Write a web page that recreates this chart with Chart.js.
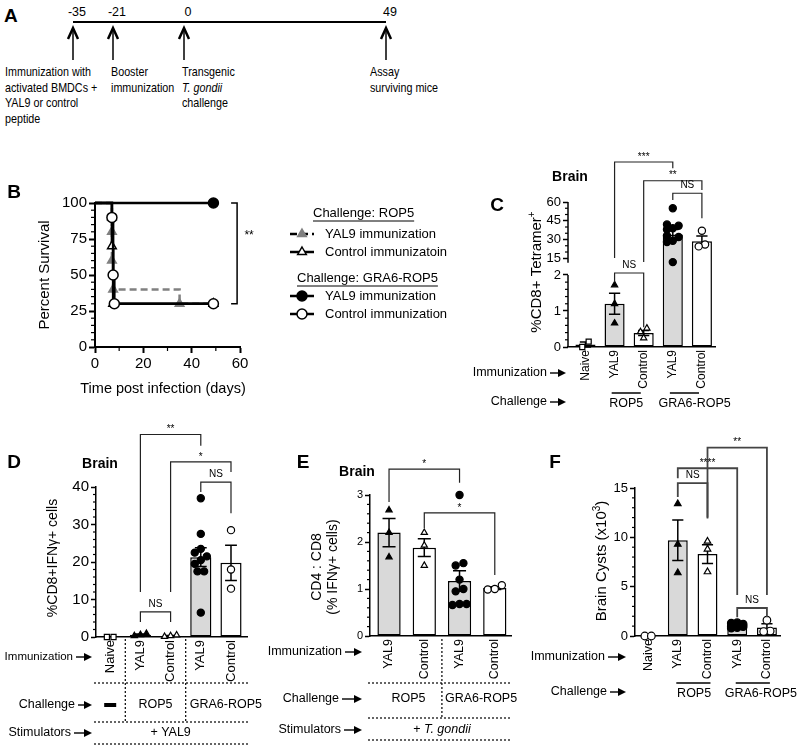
<!DOCTYPE html>
<html>
<head>
<meta charset="utf-8">
<title>Figure</title>
<script src="https://cdn.jsdelivr.net/npm/chart.js@4.4.1/dist/chart.umd.min.js"></script>
<style>
  html, body { margin: 0; padding: 0; background: #fff; }
  body { position: relative; width: 800px; height: 745px; overflow: hidden; }
  canvas, svg { position: absolute; left: 0; top: 0; }
  svg { font-family: "Liberation Sans", Arial, sans-serif; }
</style>
</head>
<body>
<svg id="timeline" width="800" height="130"></svg>
<script>
const FONT = '"Liberation Sans", Arial, Helvetica, sans-serif';
const GREY = '#d9d9d9';

// ---- A : timeline (schematic, not to scale)
const tlDays  = ['-35', '-21', '0', '49'];
const tlNotes = [
  ['Immunization with', 'activated BMDCs +', 'YAL9 or control', 'peptide'],
  ['Booster', 'immunization'],
  ['Transgenic', '<tspan font-style="italic">T. gondii</tspan>', 'challenge'],
  ['Assay', 'surviving mice']
];

// ---- B : survival (Kaplan-Meier steps)
const survDaysRop5Yal9 = [0, 7, 7, 7, 7.5, 35, 49];
const survRop5Yal9     = [100, 90, 80, 60, 40, 30, 30];
const survDaysRop5Ctrl = [0, 7, 7.5, 49];
const survRop5Ctrl     = [100, 70, 30, 30];
const survDaysGraYal9  = [0, 49];
const survGraYal9      = [100, 100];
const survDaysGraCtrl  = [0, 7, 7.5, 8, 49];
const survGraCtrl      = [100, 90, 50, 30, 30];
const survTicksX = [0, 20, 40, 60];
const survTicksY = [0, 25, 50, 75, 100];
const legendRop5 = ['YAL9 immunization', 'Control immunizatoin'];
const legendGra6 = ['YAL9 immunization', 'Control immunization'];

// ---- C : %CD8+ tetramer+ (broken axis)
const cCats   = ['Naive', 'YAL9', 'Control', 'YAL9', 'Control'];
const cMeans  = [0.07, 1.2, 0.39, 34, 28.7];
const cSems   = [0.07, 0.29, 0.07, 4.0, 4.1];
const cPoints = [[0, 0.15], [1.72, 1.2, 0.66], [0.52, 0.42, 0.25],
                 [55, 42, 41, 39, 38, 33, 32, 29, 28, 12], [37, 26, 24.5]];
const cTicks  = [0, 1, 2, 15, 30, 45, 60];

// ---- D : %CD8+IFNg+
const dCats   = ['Naive', 'YAL9', 'Control', 'YAL9', 'Control'];
const dMeans  = [0, 0.6, 0.3, 21.3, 19.8];
const dSems   = [0, 0.2, 0.1, 2.5, 4.7];
const dPoints = [[0, 0], [0.3, 0.6, 0.9], [0.1, 0.3, 0.5],
                 [37, 27.5, 23.5, 22.5, 21.5, 20.5, 19.5, 17.5, 17.5, 6.5], [28.5, 18, 12.9]];
const dTicks  = [0, 10, 20, 30, 40];

// ---- E : CD4:CD8 ratio
const eCats   = ['YAL9', 'Control', 'YAL9', 'Control'];
const eMeans  = [2.2, 1.88, 1.17, 1.02];
const eSems   = [0.3, 0.19, 0.22, 0.03];
const ePoints = [[2.68, 2.2, 1.68], [2.2, 1.93, 1.5],
                 [3.0, 1.55, 1.5, 1.2, 1.0, 0.95, 0.68, 0.68, 0.66], [1.08, 0.99, 1.0]];
const eTicks  = [0, 1, 2, 3];

// ---- F : brain cysts (x10^3)
const fCats   = ['Naive', 'YAL9', 'Control', 'YAL9', 'Control'];
const fMeans  = [0, 9.7, 8.3, 1.0, 0.85];
const fSems   = [0, 2.05, 0.95, 0.1, 0.38];
const fPoints = [[0, 0], [13.4, 9.3, 6.4], [9.6, 8.8, 6.5],
                 [1.35, 1.3, 1.2, 1.1, 1.0, 0.95, 0.85, 0.8], [1.6, 0.5, 0.45]];
const fTicks  = [0, 5, 10, 15];

Chart.defaults.font.family = FONT;
Chart.defaults.color = '#000';

// ---------- panel A, plain svg
(function () {
  const ax = [73, 113, 184, 386], nx = [5, 111, 182, 370];
  let s = '<text x="4" y="22" font-size="19" font-weight="bold">A</text>';
  s += '<line x1="73" y1="22" x2="386" y2="22" stroke="#000" stroke-width="2"/>';
  ax.forEach((x, i) => {
    s += `<text x="${x + 4}" y="16" font-size="12.5" text-anchor="middle">${tlDays[i]}</text>`;
    s += `<line x1="${x}" y1="30" x2="${x}" y2="60" stroke="#000" stroke-width="1.5"/>`;
    s += `<polyline points="${x - 5},39 ${x},28 ${x + 5},39" fill="none" stroke="#000" stroke-width="2.5"/>`;
    s += `<g transform="translate(${nx[i]},0) scale(0.84,1)">`;
    tlNotes[i].forEach((line, k) => {
      s += `<text x="0" y="${76.5 + k * 15.5}" font-size="12.8">${line}</text>`;
    });
    s += '</g>';
  });
  document.getElementById('timeline').innerHTML = s;
})();

// ---------- helpers
function layer() {
  const c = document.createElement('canvas');
  c.width = 800; c.height = 745;
  document.body.appendChild(c);
  return c;
}
function pad(l, t, r, b, yw, xh) {
  return { left: l - yw, top: t, right: 800 - r, bottom: 745 - b - xh };
}
function common(padding) {
  return {
    responsive: false, animation: false, events: [],
    layout: { padding },
    plugins: { legend: { display: false }, tooltip: { enabled: false } }
  };
}
function rich(ctx, segs, x, y, o = {}) {
  ctx.save();
  ctx.translate(x, y);
  if (o.rot) ctx.rotate(o.rot);
  ctx.textBaseline = 'middle';
  ctx.textAlign = 'left';
  ctx.fillStyle = '#000';
  const fontOf = s => `${s.italic ? 'italic ' : ''}${s.bold || o.bold ? 'bold ' : ''}${s.size || o.size || 12}px ${FONT}`;
  let w = 0;
  segs.forEach(s => { ctx.font = fontOf(s); s._w = ctx.measureText(s.t).width; w += s._w; });
  let cx = o.align === 'left' ? 0 : o.align === 'right' ? -w : -w / 2;
  segs.forEach(s => { ctx.font = fontOf(s); ctx.fillText(s.t, cx, s.dy || 0); cx += s._w; });
  ctx.restore();
}
function arrow(ctx, x1, x2, y) {
  ctx.save();
  ctx.strokeStyle = ctx.fillStyle = '#000';
  ctx.lineWidth = 1.4;
  ctx.beginPath(); ctx.moveTo(x1, y); ctx.lineTo(x2 - 5, y); ctx.stroke();
  ctx.beginPath(); ctx.moveTo(x2, y); ctx.lineTo(x2 - 8, y - 4); ctx.lineTo(x2 - 8, y + 4); ctx.closePath(); ctx.fill();
  ctx.restore();
}
function rowLabel(ctx, label, xr, xEnd, y, size) {
  rich(ctx, [{ t: label }], xr, y, { size: size || 12.5, align: 'right' });
  arrow(ctx, xr + 3, xEnd, y);
}
function line(ctx, x1, y1, x2, y2, w, dash) {
  ctx.save();
  ctx.strokeStyle = '#000'; ctx.lineWidth = w || 1.3;
  ctx.setLineDash(dash || []);
  ctx.beginPath(); ctx.moveTo(x1, y1); ctx.lineTo(x2, y2); ctx.stroke();
  ctx.restore();
}
const dotted = (ctx, x1, y1, x2, y2) => line(ctx, x1, y1, x2, y2, 1.2, [2, 2]);
function marker(ctx, shape, x, y, r, fill, stroke) {
  ctx.save();
  ctx.fillStyle = fill; ctx.strokeStyle = stroke; ctx.lineWidth = 1.5;
  ctx.beginPath();
  if (shape === 'circle') ctx.arc(x, y, r, 0, Math.PI * 2);
  else { ctx.moveTo(x, y - r); ctx.lineTo(x + r * 0.866, y + r * 0.5); ctx.lineTo(x - r * 0.866, y + r * 0.5); ctx.closePath(); }
  ctx.fill(); ctx.stroke();
  ctx.restore();
}
// small ticks between the major ones
function minor(list) {
  return {
    id: 'minorTicks',
    afterDraw(chart) {
      const ctx = chart.ctx;
      ctx.save(); ctx.strokeStyle = '#000'; ctx.lineWidth = 1.2;
      list.forEach(m => {
        const s = chart.scales[m.axis];
        for (let v = m.from; v <= m.to + 1e-9; v += m.step) {
          if (m.skip.some(t => Math.abs(t - v) < 1e-6)) continue;
          const p = s.getPixelForValue(v);
          ctx.beginPath();
          if (s.isHorizontal()) { ctx.moveTo(p, s.top); ctx.lineTo(p, s.top + (m.len || 3)); }
          else { ctx.moveTo(s.right, p); ctx.lineTo(s.right - (m.len || 3), p); }
          ctx.stroke();
        }
      });
      ctx.restore();
    }
  };
}
function errorBars(means, sems) {
  return {
    id: 'errorBars',
    afterDatasetDraw(chart, args) {
      if (args.index !== 0) return;
      const { ctx } = chart, y = chart.scales.y, bars = args.meta.data;
      ctx.save(); ctx.strokeStyle = '#000'; ctx.lineWidth = 1.5;
      means.forEach((m, i) => {
        if (!sems[i]) return;
        const x = bars[i].x, w = bars[i].width * 0.28;
        const hi = y.getPixelForValue(m + sems[i]), lo = y.getPixelForValue(Math.max(0, m - sems[i]));
        ctx.beginPath();
        ctx.moveTo(x, lo); ctx.lineTo(x, hi);
        ctx.moveTo(x - w, hi); ctx.lineTo(x + w, hi);
        ctx.moveTo(x - w, lo); ctx.lineTo(x + w, lo);
        ctx.stroke();
      });
      ctx.restore();
    }
  };
}
function brackets(list, color, width) {
  return {
    id: 'brackets',
    afterDraw(chart) {
      const { ctx } = chart, x = chart.scales.x, y = chart.scales.y;
      list.forEach(([a, b, top, la, lb, label]) => {
        const xa = x.getPixelForValue(a), xb = x.getPixelForValue(b), yt = y.getPixelForValue(top);
        ctx.save(); ctx.strokeStyle = color; ctx.lineWidth = width;
        ctx.beginPath();
        ctx.moveTo(xa, y.getPixelForValue(la)); ctx.lineTo(xa, yt);
        ctx.lineTo(xb, yt); ctx.lineTo(xb, y.getPixelForValue(lb));
        ctx.stroke(); ctx.restore();
        rich(ctx, [{ t: label }], (xa + xb) / 2, yt - (label === 'NS' ? 8 : 5), { size: 10 });
      });
    }
  };
}
// spreads points of similar value sideways
function swarm(vals, tol) {
  const idx = vals.map((v, i) => i).sort((a, b) => vals[a] - vals[b]);
  const off = vals.map(() => 0);
  let start = 0;
  for (let k = 1; k <= idx.length; k++) {
    if (k === idx.length || vals[idx[k]] - vals[idx[k - 1]] > tol(vals[idx[k]])) {
      const g = idx.slice(start, k);
      g.forEach((gi, j) => {
        off[gi] = g.length === 1 ? 0 : g.length === 2 ? (j ? 0.11 : -0.11) : ((j % 3) - 1) * 0.2;
      });
      start = k;
    }
  }
  return off;
}

// ---------- broken y scale for panel C
const LinearScale = Chart.LinearScale || Chart.registry.getScale('linear');
const cBreak = { low: 2, high: 15, lowFrac: 0.497, highFrac: 0.612, upperFrom: 11.5 };
class BrokenScale extends LinearScale {
  getPixelForValue(v) {
    const b = cBreak;
    let f;
    if (v <= b.low) f = (v - this.min) / (b.low - this.min) * b.lowFrac;
    else if (v < b.high) f = b.lowFrac + (v - b.low) / (b.high - b.low) * (b.highFrac - b.lowFrac);
    else f = b.highFrac + (v - b.high) / (this.max - b.high) * (1 - b.highFrac);
    return this.getPixelForDecimal(f);
  }
  getValueForPixel(p) {
    const b = cBreak, f = this.getDecimalForPixel(p);
    if (f <= b.lowFrac) return this.min + f / b.lowFrac * (b.low - this.min);
    if (f < b.highFrac) return b.low + (f - b.lowFrac) / (b.highFrac - b.lowFrac) * (b.high - b.low);
    return b.high + (f - b.highFrac) / (1 - b.highFrac) * (this.max - b.high);
  }
}
BrokenScale.id = 'broken';
BrokenScale.defaults = {};
Chart.register(BrokenScale);

// ---------- panel B
const ST = {
  rop5Yal9: { line: '#808080', fill: '#808080', shape: 'triangle', dash: [7, 4] },
  rop5Ctrl: { line: '#000', fill: '#fff', shape: 'triangle' },
  graYal9:  { line: '#000', fill: '#000', shape: 'circle' },
  graCtrl:  { line: '#000', fill: '#fff', shape: 'circle' }
};
function kmSet(days, surv, st) {
  return {
    data: days.map((d, i) => ({ x: d, y: surv[i] })),
    stepped: 'before', fill: false, clip: false,
    borderColor: st.line, borderWidth: 2.5, borderDash: st.dash || [],
    pointStyle: st.shape, pointRadius: days.map((d, i) => (i === 0 ? 0 : 5)),
    pointBackgroundColor: st.fill, pointBorderColor: st.line, pointBorderWidth: 1.5
  };
}
function drawB(chart) {
  const { ctx } = chart, x = chart.scales.x, y = chart.scales.y;
  rich(ctx, [{ t: 'B' }], 14, 193, { size: 19, bold: true });
  rich(ctx, [{ t: 'Percent Survival' }], 45, (y.top + y.bottom) / 2, { size: 15, rot: -Math.PI / 2 });
  rich(ctx, [{ t: 'Time post infection (days)' }], 163, 389, { size: 14.5 });
  // significance bracket
  const bx = x.getPixelForValue(58.8), yt = y.getPixelForValue(100), yb = y.getPixelForValue(30);
  ctx.save(); ctx.strokeStyle = '#000'; ctx.lineWidth = 1.5;
  ctx.beginPath(); ctx.moveTo(bx - 6, yt); ctx.lineTo(bx, yt); ctx.lineTo(bx, yb); ctx.lineTo(bx - 6, yb); ctx.stroke();
  ctx.restore();
  rich(ctx, [{ t: '**' }], bx + 12, y.getPixelForValue(77), { size: 12 });
  // legend
  const head = (t, hx, hy) => {
    rich(ctx, [{ t }], hx, hy, { size: 13, align: 'left' });
    ctx.font = `13px ${FONT}`;
    line(ctx, hx, hy + 8, hx + ctx.measureText(t).width, hy + 8, 1);
  };
  const item = (st, label, iy) => {
    line(ctx, 290, iy, 314, iy, 2.5, st.dash);
    marker(ctx, st.shape, 302, iy, 5, st.fill, st.line);
    rich(ctx, [{ t: label }], 325, iy, { size: 13, align: 'left' });
  };
  head('Challenge: ROP5', 313, 213);
  item(ST.rop5Yal9, legendRop5[0], 234);
  item(ST.rop5Ctrl, legendRop5[1], 252);
  head('Challenge: GRA6-ROP5', 297, 278);
  item(ST.graYal9, legendGra6[0], 296);
  item(ST.graCtrl, legendGra6[1], 314);
}
new Chart(layer(), {
  type: 'line',
  data: { datasets: [
    kmSet(survDaysGraYal9, survGraYal9, ST.graYal9),
    kmSet(survDaysGraCtrl, survGraCtrl, ST.graCtrl),
    kmSet(survDaysRop5Ctrl, survRop5Ctrl, ST.rop5Ctrl),
    kmSet(survDaysRop5Yal9, survRop5Yal9, ST.rop5Yal9)
  ] },
  options: {
    ...common(pad(95, 203, 240, 347, 40, 30)),
    scales: {
      x: {
        type: 'linear', min: 0, max: 60,
        afterBuildTicks: s => { s.ticks = survTicksX.map(v => ({ value: v })); },
        afterFit: s => { s.height = 30; },
        ticks: { font: { size: 15 }, color: '#000', padding: 2 },
        grid: { drawOnChartArea: false, tickLength: 6, tickWidth: 2, tickColor: '#000' },
        border: { color: '#000', width: 2 }
      },
      y: {
        type: 'linear', min: 0, max: 100,
        afterBuildTicks: s => { s.ticks = survTicksY.map(v => ({ value: v })); },
        afterFit: s => { s.width = 40; },
        ticks: { font: { size: 15 }, color: '#000', padding: 2 },
        grid: { drawOnChartArea: false, tickLength: 6, tickWidth: 2, tickColor: '#000' },
        border: { color: '#000', width: 2 }
      }
    }
  },
  plugins: [
    minor([{ axis: 'y', from: 0, to: 100, step: 5, skip: survTicksY, len: 4 },
           { axis: 'x', from: 0, to: 60, step: 10, skip: survTicksX, len: 4 }]),
    { id: 'bExtras', afterDraw: drawB }
  ]
});

// ---------- bar panels
function barChart(o) {
  const datasets = [{
    type: 'bar', order: 2,
    data: o.means.map((m, i) => ({ x: i, y: m })),
    backgroundColor: o.fills, borderColor: '#000', borderWidth: 1.5, borderSkipped: false,
    barPercentage: o.barPct, categoryPercentage: 1
  }];
  o.points.forEach((g, i) => {
    const off = swarm(g, o.tol);
    datasets.push({
      type: 'scatter', order: 1, clip: false,
      data: g.map((v, k) => ({ x: i + off[k], y: v })),
      pointStyle: o.shapes[i], pointRadius: o.r || 3.6, pointBorderWidth: 1.2,
      pointBackgroundColor: o.dots[i], pointBorderColor: '#000'
    });
  });
  const [l, t, r, b] = o.area;
  return new Chart(layer(), {
    type: 'bar',
    data: { datasets },
    options: {
      ...common(pad(l, t, r, b, 30, 45)),
      scales: {
        x: {
          type: 'linear', min: o.xMin, max: o.xMax, offset: false,
          afterBuildTicks: s => { s.ticks = o.cats.map((c, i) => ({ value: i })); },
          afterFit: s => { s.height = 45; },
          ticks: { autoSkip: false, minRotation: 90, maxRotation: 90, font: { size: o.catSize }, color: '#000', padding: 3,
                   callback: v => o.cats[Math.round(v)] },
          grid: { display: false, drawTicks: false },
          border: { color: '#000', width: 1.5 }
        },
        y: {
          type: o.yType || 'linear', min: 0, max: o.yMax,
          afterBuildTicks: s => { s.ticks = o.yTicks.map(v => ({ value: v })); },
          afterFit: s => { s.width = 30; },
          ticks: { autoSkip: false, font: { size: o.tickSize }, color: '#000', padding: 2, callback: v => String(v) },
          grid: { drawOnChartArea: false, tickLength: 5, tickWidth: 1.5, tickColor: '#000' },
          border: { display: !o.yType, color: '#000', width: 1.5 }
        }
      }
    },
    plugins: [errorBars(o.means, o.sems), minor(o.minor), brackets(o.brackets, o.bColor || '#222', o.bWidth || 1.2),
              { id: 'extras', afterDraw: o.extras }]
  });
}

// C
barChart({
  cats: cCats, means: cMeans, sems: cSems, points: cPoints, yTicks: cTicks, yMax: 60, yType: 'broken',
  area: [568, 202, 715, 347], xMin: -0.6, xMax: 4.45, barPct: 0.69, catSize: 12, tickSize: 13,
  fills: ['#fff', GREY, '#fff', GREY, '#fff'],
  shapes: ['rect', 'triangle', 'triangle', 'circle', 'circle'], dots: ['#fff', '#000', '#fff', '#000', '#fff'],
  tol: v => (v > 5 ? 4 : 0.15),
  minor: [{ axis: 'y', from: 0, to: 2, step: 0.2, skip: cTicks }, { axis: 'y', from: 15, to: 60, step: 5, skip: cTicks }],
  brackets: [[1, 3, 92, 15.2, 87, '***'], [2, 4, 77, 12, 69.6, '**'], [3, 4, 67, 61.6, 47, 'NS'], [1, 2, 3.5, 1.8, 0.55, 'NS']],
  extras(chart) {
    const { ctx } = chart, x = chart.scales.x, y = chart.scales.y;
    line(ctx, y.right, y.getPixelForValue(0), y.right, y.getPixelForValue(cBreak.low), 1.5);
    line(ctx, y.right, y.getPixelForValue(cBreak.upperFrom), y.right, y.getPixelForValue(60), 1.5);
    rich(ctx, [{ t: 'C' }], 497, 206, { size: 19, bold: true });
    rich(ctx, [{ t: 'Brain' }], 570, 177, { size: 14, bold: true });
    rich(ctx, [{ t: '%CD8+ Tetramer' }, { t: '+', size: 10, dy: -5 }], 537, 272, { size: 15, rot: -Math.PI / 2 });
    rowLabel(ctx, 'Immunization', 547, 566, 373);
    rowLabel(ctx, 'Challenge', 547, 566, 402);
    line(ctx, x.getPixelForValue(0.9), 393, x.getPixelForValue(1.9), 393, 1.5);
    line(ctx, x.getPixelForValue(2.9), 393, x.getPixelForValue(3.9), 393, 1.5);
    rich(ctx, [{ t: 'ROP5' }], x.getPixelForValue(1.4), 404, { size: 12.5 });
    rich(ctx, [{ t: 'GRA6-ROP5' }], x.getPixelForValue(3.75), 404, { size: 12.5 });
  }
});

// D
barChart({
  cats: dCats, means: dMeans, sems: dSems, points: dPoints, yTicks: dTicks, yMax: 40,
  area: [96, 487, 247, 637], xMin: -0.47, xMax: 4.53, barPct: 0.7, catSize: 13, tickSize: 15,
  fills: ['#fff', GREY, '#fff', GREY, '#fff'],
  shapes: ['rect', 'triangle', 'triangle', 'circle', 'circle'], dots: ['#fff', '#000', '#fff', '#000', '#fff'],
  tol: () => 1.8,
  minor: [{ axis: 'y', from: 0, to: 40, step: 2, skip: dTicks }],
  brackets: [[1, 3, 54, 12, 51, '**'], [2, 4, 46.7, 12, 44, '*'], [3, 4, 41.3, 38.7, 33, 'NS'], [1, 2, 6.7, 4, 4, 'NS']],
  extras(chart) {
    const { ctx } = chart, x = chart.scales.x;
    rich(ctx, [{ t: 'D' }], 14, 463, { size: 19, bold: true });
    rich(ctx, [{ t: 'Brain' }], 100, 464, { size: 14, bold: true });
    rich(ctx, [{ t: '%CD8+IFNγ+ cells' }], 53, 558, { size: 14, rot: -Math.PI / 2 });
    const x0 = x.left - 2, x1 = x.right + 3;
    rowLabel(ctx, 'Immunization', 73, 92, 657, 11.5);
    [683, 722, 744].forEach(yy => dotted(ctx, x0, yy, x1, yy));
    [0.5, 2.5].forEach(v => dotted(ctx, x.getPixelForValue(v), 639, x.getPixelForValue(v), 722));
    rowLabel(ctx, 'Challenge', 75, 92, 705);
    ctx.fillStyle = '#000';
    ctx.fillRect(x.getPixelForValue(0) - 6, 703, 12, 4);
    rich(ctx, [{ t: 'ROP5' }], x.getPixelForValue(1.5), 705, { size: 12.5 });
    rich(ctx, [{ t: 'GRA6-ROP5' }], x.getPixelForValue(2.5) + 4, 705, { size: 12.5, align: 'left' });
    rowLabel(ctx, 'Stimulators', 71, 92, 733);
    rich(ctx, [{ t: '+ YAL9' }], x.getPixelForValue(2), 733, { size: 12.5 });
  }
});

// E
barChart({
  cats: eCats, means: eMeans, sems: eSems, points: ePoints, yTicks: eTicks, yMax: 3,
  area: [370, 495, 511, 636], xMin: -0.54, xMax: 3.46, barPct: 0.66, catSize: 12.5, tickSize: 11,
  fills: [GREY, '#fff', GREY, '#fff'],
  shapes: ['triangle', 'triangle', 'circle', 'circle'], dots: ['#000', '#fff', '#000', '#fff'],
  tol: () => 0.14,
  minor: [{ axis: 'y', from: 0, to: 3, step: 0.2, skip: eTicks }],
  brackets: [[0, 2, 3.55, 2.85, 3.26, '*'], [1, 3, 2.62, 2.3, 1.3, '*']],
  extras(chart) {
    const { ctx } = chart, x = chart.scales.x;
    rich(ctx, [{ t: 'E' }], 303, 463, { size: 19, bold: true });
    rich(ctx, [{ t: 'Brain' }], 357, 472, { size: 14, bold: true });
    rich(ctx, [{ t: 'CD4 : CD8' }], 317, 567, { size: 14, rot: -Math.PI / 2 });
    rich(ctx, [{ t: '(% IFNγ+ cells)' }], 333, 567, { size: 14, rot: -Math.PI / 2 });
    const x0 = x.left - 2, x1 = x.right;
    rowLabel(ctx, 'Immunization', 342, 362, 652);
    [683, 718, 740].forEach(yy => dotted(ctx, x0, yy, x1, yy));
    dotted(ctx, x.getPixelForValue(1.5), 639, x.getPixelForValue(1.5), 718);
    rowLabel(ctx, 'Challenge', 339, 362, 699);
    rich(ctx, [{ t: 'ROP5' }], x.getPixelForValue(0.55), 699, { size: 12.5 });
    rich(ctx, [{ t: 'GRA6-ROP5' }], x.getPixelForValue(1.5) + 3, 699, { size: 12.5, align: 'left' });
    rowLabel(ctx, 'Stimulators', 341, 362, 730);
    rich(ctx, [{ t: '+ ' }, { t: 'T. gondii', italic: true }], x.getPixelForValue(1.5), 730, { size: 12.5 });
  }
});

// F
barChart({
  cats: fCats, means: fMeans, sems: fSems, points: fPoints, yTicks: fTicks, yMax: 15,
  area: [635, 488, 780, 636], xMin: -0.44, xMax: 4.44, barPct: 0.67, catSize: 12.5, tickSize: 13,
  fills: ['#fff', GREY, '#fff', GREY, '#fff'],
  shapes: ['circle', 'triangle', 'triangle', 'circle', 'circle'], dots: ['#fff', '#000', '#fff', '#000', '#fff'],
  tol: () => 0.7, r: 3.8,
  minor: [{ axis: 'y', from: 0, to: 15, step: 1, skip: fTicks }],
  brackets: [[2, 4, 19.1, 12, 4.15, '**'], [1, 3, 17, 16, 4.15, '****'], [1, 2, 15.5, 14.1, 11.9, 'NS'], [3, 4, 2.84, 1.9, 1.9, 'NS']],
  bColor: '#444', bWidth: 1.8,
  extras(chart) {
    const { ctx } = chart, x = chart.scales.x;
    rich(ctx, [{ t: 'F' }], 555, 463, { size: 19, bold: true });
    rich(ctx, [{ t: 'Brain Cysts (x10' }, { t: '3', size: 10, dy: -5 }, { t: ')' }], 602, 561, { size: 15, rot: -Math.PI / 2 });
    rowLabel(ctx, 'Immunization', 605, 626, 657);
    rowLabel(ctx, 'Challenge', 607, 626, 692);
    line(ctx, x.getPixelForValue(0.95), 683, x.getPixelForValue(2.1), 683, 1.5);
    line(ctx, x.getPixelForValue(2.95), 683, x.getPixelForValue(4.1), 683, 1.5);
    rich(ctx, [{ t: 'ROP5' }], x.getPixelForValue(1.55), 694, { size: 12.5 });
    rich(ctx, [{ t: 'GRA6-ROP5' }], 797, 694, { size: 12.5, align: 'right' });
  }
});
</script>
</body>
</html>
